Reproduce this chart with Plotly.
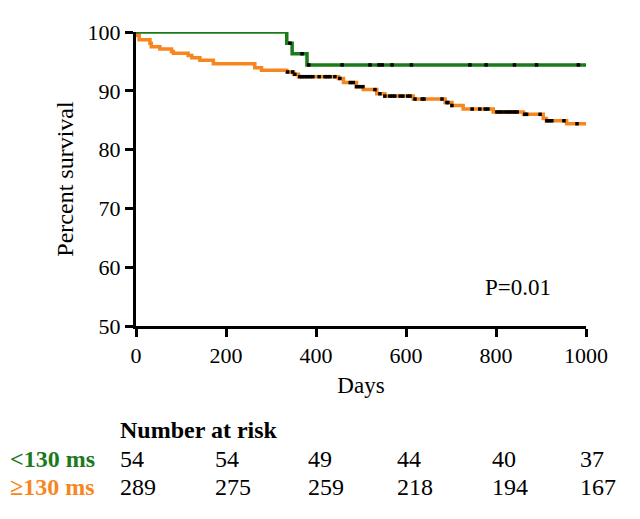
import plotly.graph_objects as go
import bisect

# ---- data ----
green_times = [0, 335, 347, 380, 1000]
green_surv = [100, 98.1, 96.3, 94.4, 94.4]
green_censor = [342, 369, 384, 458, 520, 540, 547, 569, 612, 742, 778, 841, 890, 983]

orange_times = [0, 2, 7, 31, 34, 53, 79, 83, 116, 124, 142, 172, 264, 279, 335, 350, 361,
                450, 461, 490, 505, 535, 553, 616, 687, 702, 727, 794, 861, 905, 912, 957, 1000]
orange_surv = [100, 99.4, 98.7, 98.1, 97.5, 97.1, 96.7, 96.4, 96.0, 95.6, 95.2, 94.6, 93.9, 93.5,
               93.2, 92.8, 92.4, 92.1, 91.4, 90.7, 90.2, 89.5, 89.1, 88.6, 88.0, 87.5, 86.9,
               86.4, 86.0, 85.3, 84.9, 84.4, 84.4]
orange_censor = [337, 348, 353, 364, 369, 375, 381, 387, 393, 407, 420, 425, 431, 442, 453,
                 476, 483, 490, 497, 504, 531, 542, 553, 564, 570, 575, 587, 593, 604, 609,
                 620, 636, 640, 680, 691, 693, 702, 747, 764, 776, 782, 802, 808, 813, 820,
                 826, 831, 837, 842, 847, 864, 868, 898, 913, 918, 924, 951, 980]

risk_times = [0, 200, 400, 600, 800, 1000]
risk_low = [54, 54, 49, 44, 40, 37]
risk_high = [289, 275, 259, 218, 194, 167]
group_labels = ["<130 ms", "≥130 ms"]
p_text = "P=0.01"

GREEN = "#1b7a1b"
ORANGE = "#f7861f"
FONT = "Liberation Serif"


def step_at(times, surv, t):
    i = bisect.bisect_right(times, t) - 1
    return surv[max(i, 0)]


fig = go.Figure()
fig.add_trace(go.Scatter(x=orange_times, y=orange_surv, mode="lines",
                         line=dict(color=ORANGE, width=3.5, shape="hv"), cliponaxis=False))
fig.add_trace(go.Scatter(x=green_times, y=green_surv, mode="lines",
                         line=dict(color=GREEN, width=3.5, shape="hv"), cliponaxis=False))
fig.add_trace(go.Scatter(x=orange_censor,
                         y=[step_at(orange_times, orange_surv, t) for t in orange_censor],
                         mode="markers", marker=dict(symbol="square", size=3.5, color="black"),
                         cliponaxis=False))
fig.add_trace(go.Scatter(x=green_censor,
                         y=[step_at(green_times, green_surv, t) for t in green_censor],
                         mode="markers", marker=dict(symbol="square", size=3.5, color="black"),
                         cliponaxis=False))

OFF = 8  # page body margin
W, H = 640, 519
L, T = 136 - OFF, 25 - OFF
pw, ph = 450, 301
R, B = W - L - pw, H - T - ph


def px(x):
    return (x - OFF - L) / pw


def py(y):
    return (T + ph - (y - OFF)) / ph


ann = []
ann.append(dict(x=849, y=56.6, xref="x", yref="y", text=p_text, showarrow=False,
                font=dict(size=23, color="black", family=FONT)))
ann.append(dict(x=px(118), y=py(432), xref="paper", yref="paper", text="<b>Number at risk</b>",
                xanchor="left", yanchor="middle", showarrow=False,
                font=dict(size=24, color="black", family=FONT)))
row_y = [py(462), py(491)]
row_col = [GREEN, ORANGE]
shifts = [-18, -13, -10, -11, -6, -8]
for r, (lab, vals) in enumerate(zip(group_labels, [risk_low, risk_high])):
    ann.append(dict(x=px(97), y=row_y[r], xref="paper", yref="paper", text="<b>%s</b>" % lab,
                    xanchor="right", yanchor="middle", showarrow=False,
                    font=dict(size=24, color=row_col[r], family=FONT)))
    for t, v, s in zip(risk_times, vals, shifts):
        ann.append(dict(x=t, y=row_y[r], xref="x", yref="paper", text=str(v), xshift=s,
                        xanchor="left", yanchor="middle", showarrow=False,
                        font=dict(size=24, color="black", family=FONT)))

fig.update_layout(
    width=W, height=H,
    margin=dict(l=L, r=R, t=T, b=B),
    paper_bgcolor="white", plot_bgcolor="white",
    showlegend=False,
    font=dict(family=FONT, color="black", size=22),
    annotations=ann,
    xaxis=dict(range=[0, 1000], tickvals=risk_times, showline=True, linecolor="black",
               linewidth=3, ticks="outside", ticklen=8, tickwidth=3, tickcolor="black",
               showgrid=False, zeroline=False, tickfont=dict(size=22, family=FONT),
               title=dict(text="Days", font=dict(size=23, family=FONT), standoff=10)),
    yaxis=dict(range=[50, 100], tickvals=[50, 60, 70, 80, 90, 100], showline=True,
               linecolor="black", linewidth=3, ticks="outside", ticklen=8, tickwidth=3,
               tickcolor="black", showgrid=False, zeroline=False,
               tickfont=dict(size=22, family=FONT),
               title=dict(text="Percent survival", font=dict(size=24, family=FONT), standoff=8)),
)

fig.write_html("out.html")
